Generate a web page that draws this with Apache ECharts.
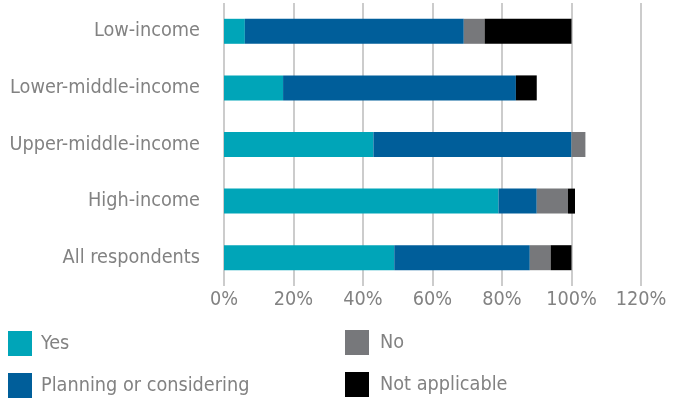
<!DOCTYPE html>
<html><head><meta charset="utf-8">
<script src="https://cdn.jsdelivr.net/npm/echarts@6/dist/echarts.min.js"></script>
<style>html,body{margin:0;padding:0;background:#fff}#c{width:678px;height:401px}</style>
</head><body><div id="c"></div>
<script>
const categories = ['Low-income','Lower-middle-income','Upper-middle-income','High-income','All respondents'];
const yesVals = [6, 17, 43, 79, 49];
const planVals = [63, 67, 57, 11, 39];
const noVals = [6, 0, 4, 9, 6];
const naVals = [25, 6, 0, 2, 6];
const seriesNames = ['Yes','Planning or considering','No','Not applicable'];
const colors = ['#00A5B8','#005E9A','#77787B','#000000'];
const xTicks = [0,20,40,60,80,100,120];

// pick an installed narrow font and size it so the longest label is ~190px wide
const ctx = document.createElement('canvas').getContext('2d');
function w(f){ ctx.font = '100px ' + f; return ctx.measureText('Lower-middle-income').width; }
const cands = ['"Liberation Sans Narrow"','"DejaVu Sans Condensed"','"Roboto"'];
let FONT = '"Liberation Sans", sans-serif', ref = w('monospace');
for (const c of cands){ if (Math.abs(w(c + ', monospace') - ref) > 1){ FONT = c + ', sans-serif'; break; } }
const FS = Math.round(190 / w(FONT) * 100 * 10) / 10;

const TXT = '#828282';
const chart = echarts.init(document.getElementById('c'), null, {renderer:'canvas'});
const vals = [yesVals, planVals, noVals, naVals];
chart.setOption({
  animation:false,
  color: colors,
  grid:{left:224, right:37, top:3, height:283, containLabel:false, outerBoundsMode:'none'},
  xAxis:{type:'value', min:xTicks[0], max:xTicks[xTicks.length-1], interval:20,
    axisLine:{show:false}, axisTick:{show:false},
    splitLine:{show:true, lineStyle:{color:'#cccccc', width:2}},
    axisLabel:{formatter:'{value}%', color:TXT, fontFamily:FONT, fontSize:FS, margin:4}},
  yAxis:{type:'category', data:categories, inverse:true,
    axisLine:{show:false}, axisTick:{show:false},
    axisLabel:{color:TXT, fontFamily:FONT, fontSize:FS, margin:24}},
  legend:[
    {data:[seriesNames[0],seriesNames[1]], orient:'vertical', left:8, top:331, padding:0, itemWidth:24, itemHeight:25, itemGap:17,
     icon:'rect', textStyle:{color:TXT, fontFamily:FONT, fontSize:FS, padding:[0,0,0,4]}},
    {data:[seriesNames[2],seriesNames[3]], orient:'vertical', left:345, top:330, padding:0, itemWidth:24, itemHeight:25, itemGap:17,
     icon:'rect', textStyle:{color:TXT, fontFamily:FONT, fontSize:FS, padding:[0,0,0,6]}}
  ],
  series: seriesNames.map((n,i)=>({name:n, type:'bar', stack:'s', data:vals[i], barWidth:25,
    itemStyle:{color:colors[i]}}))
});
</script></body></html>
